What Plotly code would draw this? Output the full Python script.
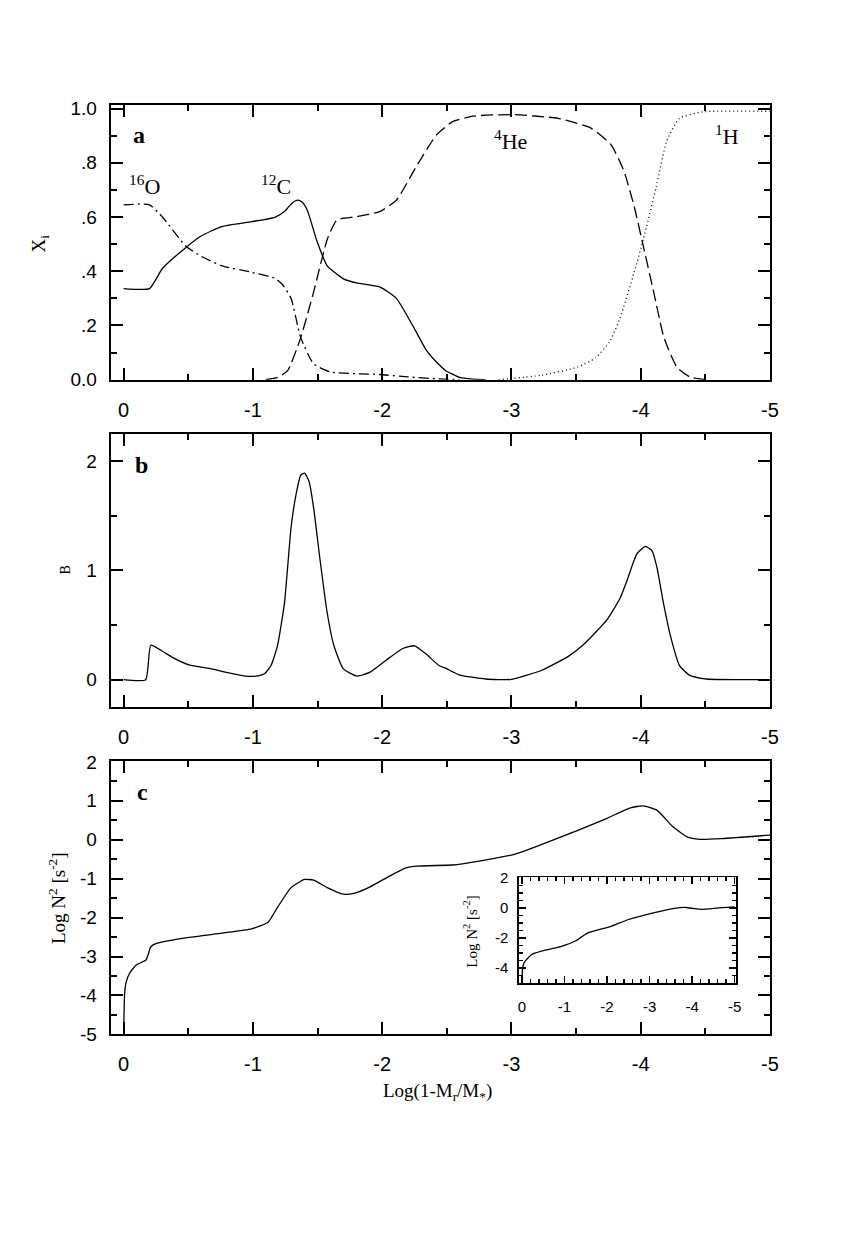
import plotly.graph_objects as go

# ---------------- data ----------------
# panel a: mass fractions X_i vs Log(1-Mr/M*)
o16_x = [0, -0.2, -0.3, -0.48, -0.6, -0.76, -0.99, -1.17, -1.23, -1.295, -1.37, -1.47, -1.6, -1.8, -1.98, -2.2, -2.42, -2.6]
o16_y = [0.645, 0.645, 0.60, 0.493, 0.455, 0.42, 0.396, 0.374, 0.35, 0.30, 0.155, 0.058, 0.028, 0.022, 0.019, 0.01, 0.003, 0.0]

c12_x = [0, -0.2, -0.3, -0.48, -0.6, -0.76, -0.99, -1.17, -1.244, -1.30, -1.346, -1.38, -1.42, -1.5, -1.575, -1.70, -1.80, -1.98, -2.11, -2.26, -2.34, -2.42, -2.49, -2.6, -2.7, -2.8]
c12_y = [0.336, 0.336, 0.41, 0.487, 0.53, 0.565, 0.583, 0.599, 0.62, 0.65, 0.662, 0.655, 0.626, 0.505, 0.42, 0.372, 0.357, 0.342, 0.30, 0.179, 0.11, 0.065, 0.034, 0.008, 0.002, 0.0]

he4_x = [-1.1, -1.2, -1.27, -1.37, -1.47, -1.575, -1.65, -1.80, -1.98, -2.11, -2.26, -2.42, -2.545, -2.7, -3.0, -3.36, -3.615, -3.77, -3.87, -3.95, -4.02, -4.10, -4.18, -4.28, -4.38, -4.5]
he4_y = [0.0, 0.01, 0.034, 0.155, 0.324, 0.517, 0.589, 0.601, 0.62, 0.662, 0.783, 0.903, 0.952, 0.972, 0.978, 0.964, 0.928, 0.867, 0.77, 0.638, 0.493, 0.324, 0.155, 0.046, 0.01, 0.0]

h1_x = [-2.9, -3.23, -3.51, -3.65, -3.76, -3.84, -3.95, -4.02, -4.12, -4.20, -4.30, -4.48, -5.0]
h1_y = [0.0, 0.016, 0.046, 0.08, 0.14, 0.227, 0.396, 0.517, 0.71, 0.879, 0.964, 0.988, 0.99]

# panel b: Ledoux term B
b_x = [0, -0.17, -0.21, -0.3, -0.377, -0.505, -0.68, -0.785, -0.94, -1.04, -1.09, -1.14, -1.19, -1.244, -1.295, -1.333, -1.37, -1.40, -1.435, -1.47, -1.52, -1.575, -1.627, -1.70, -1.805, -1.907, -2.06, -2.16, -2.25, -2.34, -2.44, -2.49, -2.595, -2.80, -3.0, -3.23, -3.44, -3.56, -3.74, -3.84, -3.895, -3.97, -4.036, -4.087, -4.125, -4.176, -4.23, -4.30, -4.38, -4.51, -5.0]
b_y = [0.0, 0.0, 0.315, 0.26, 0.204, 0.135, 0.099, 0.069, 0.033, 0.035, 0.054, 0.129, 0.309, 0.70, 1.39, 1.69, 1.87, 1.89, 1.81, 1.57, 1.09, 0.61, 0.31, 0.099, 0.033, 0.069, 0.204, 0.285, 0.31, 0.234, 0.129, 0.105, 0.045, 0.006, 0.003, 0.084, 0.213, 0.324, 0.55, 0.745, 0.91, 1.15, 1.22, 1.18, 1.03, 0.70, 0.40, 0.129, 0.039, 0.006, 0.0]

# panel c: Log N^2
n2_x = [0, -0.008, -0.02, -0.046, -0.097, -0.173, -0.19, -0.21, -0.25, -0.505, -0.76, -0.99, -1.117, -1.19, -1.295, -1.40, -1.47, -1.575, -1.70, -1.78, -1.907, -2.06, -2.19, -2.26, -2.545, -2.62, -3.03, -3.49, -3.74, -3.92, -4.02, -4.125, -4.25, -4.355, -4.46, -4.63, -5.0]
n2_y = [-5.0, -3.93, -3.65, -3.43, -3.22, -3.09, -2.95, -2.75, -2.67, -2.51, -2.40, -2.29, -2.12, -1.74, -1.23, -1.02, -1.04, -1.23, -1.40, -1.38, -1.21, -0.93, -0.72, -0.68, -0.65, -0.62, -0.37, 0.21, 0.55, 0.82, 0.87, 0.76, 0.33, 0.08, 0.01, 0.03, 0.12]

# inset: Log N^2
ins_x = [0, -0.01, -0.03, -0.077, -0.23, -0.46, -0.93, -1.27, -1.54, -2.08, -2.47, -3.09, -3.55, -3.86, -4.05, -4.24, -4.63, -5.0]
ins_y = [-4.94, -4.2, -3.8, -3.53, -3.09, -2.87, -2.55, -2.18, -1.67, -1.24, -0.80, -0.33, -0.04, 0.03, -0.05, -0.09, 0.0, 0.07]

x_ticks = [0, -1, -2, -3, -4, -5]
x_ticktext = ["0", "-1", "-2", "-3", "-4", "-5"]
a_yticks = [0, 0.2, 0.4, 0.6, 0.8, 1.0]
a_yticktext = ["0.0", ".2", ".4", ".6", ".8", "1.0"]
b_yticks = [0, 1, 2]
c_yticks = [2, 1, 0, -1, -2, -3, -4, -5]
ins_yticks = [2, 0, -2, -4]

# ---------------- figure ----------------
W, H = 862, 1241
SANS = "Liberation Sans, Arial, sans-serif"
SERIF = "Liberation Serif, Times New Roman, serif"
LW = 1.3

def px(x):
    return x / W

def py(y):
    return 1 - y / H

fig = go.Figure()

def line(x, y, xa, ya, dash="solid"):
    fig.add_trace(go.Scatter(x=x, y=y, mode="lines", xaxis=xa, yaxis=ya,
                             line=dict(color="black", width=LW, dash=dash, shape="spline", smoothing=0.5),
                             showlegend=False, hoverinfo="skip"))

line(o16_x, o16_y, "x", "y", "10px,4px,2px,4px")
line(c12_x, c12_y, "x", "y")
line(he4_x, he4_y, "x", "y", "12px,5px")
line(h1_x, h1_y, "x", "y", "1px,3px")
line(b_x, b_y, "x2", "y2")
line(n2_x, n2_y, "x3", "y3")
line(ins_x, ins_y, "x4", "y4")

def xaxis(dom, anchor, ticksize=20, tl=12, ml=6, rng=(0.1, -5.0), minor=0.5, standoff=11, lw=2):
    return dict(domain=dom, anchor=anchor, range=list(rng), tickvals=x_ticks, ticktext=x_ticktext,
                ticks="inside", ticklen=tl, tickwidth=lw, tickcolor="black",
                minor=dict(dtick=minor, ticks="inside", ticklen=ml, tickwidth=lw, tickcolor="black", showgrid=False),
                showline=True, linecolor="black", linewidth=lw, mirror="allticks",
                showgrid=False, zeroline=False, ticklabelstandoff=standoff,
                tickfont=dict(family=SANS, size=ticksize, color="black"))

def yaxis(dom, anchor, rng, tickvals, ticktext=None, minor=0.5, ticksize=19, tl=12, ml=6, standoff=8, lw=2):
    d = dict(domain=dom, anchor=anchor, range=list(rng), tickvals=tickvals,
             ticks="inside", ticklen=tl, tickwidth=lw, tickcolor="black",
             minor=dict(dtick=minor, ticks="inside", ticklen=ml, tickwidth=lw, tickcolor="black", showgrid=False),
             showline=True, linecolor="black", linewidth=lw, mirror="allticks",
             showgrid=False, zeroline=False, ticklabelstandoff=standoff,
             tickfont=dict(family=SANS, size=ticksize, color="black"))
    if ticktext is not None:
        d["ticktext"] = ticktext
    else:
        d["ticktext"] = [str(v) for v in tickvals]
    return d

xdom = [px(111), px(778)]
fig.update_layout(
    width=W, height=H, margin=dict(l=0, r=0, t=0, b=0),
    paper_bgcolor="white", plot_bgcolor="white", showlegend=False,
    xaxis=xaxis(xdom, "y"),
    yaxis=yaxis([py(376), py(97)], "x", (0, 1.012), a_yticks, a_yticktext, minor=0.1),
    xaxis2=xaxis(xdom, "y2"),
    yaxis2=yaxis([py(709), py(431)], "x2", (-0.25, 2.25), b_yticks),
    xaxis3=xaxis(xdom, "y3"),
    yaxis3=yaxis([py(1042), py(764)], "x3", (-5, 2.02), c_yticks),
    xaxis4=xaxis([px(524), px(744)], "y4", ticksize=15, tl=7, ml=4, rng=(0.07, -5.04), minor=0.2, standoff=9, lw=1.5),
    yaxis4=yaxis([py(990), py(882)], "x4", (-5, 2.05), ins_yticks, minor=0.5, ticksize=15, tl=7, ml=4, standoff=6, lw=1.5),
)

def ann(text, x, y, size, bold=False, angle=0, family=SERIF):
    if bold:
        text = "<b>" + text + "</b>"
    fig.add_annotation(text=text, x=px(x), y=py(y), xref="paper", yref="paper",
                       showarrow=False, textangle=angle, xanchor="center", yanchor="middle",
                       font=dict(family=family, size=size, color="black"))

ann("a", 140, 127, 24, bold=True)
ann("b", 142, 463, 24, bold=True)
ann("c", 143, 795, 24, bold=True)
ann("<sup>16</sup>O", 145, 178, 22)
ann("<sup>12</sup>C", 278, 178, 22)
ann("<sup>4</sup>He", 515, 132, 22)
ann("<sup>1</sup>H", 735, 127, 22)
ann("X<sub>i</sub>", 39, 238, 19, angle=-90)
ann("B", 65, 570, 14, angle=-90)
ann("Log N<sup>2</sup> [s<sup>-2</sup>]", 56, 903, 19, angle=-90)
ann("Log N<sup>2</sup> [s<sup>-2</sup>]", 475, 937, 15, angle=-90)
ann("Log(1-M<sub>r</sub>/M<sub>*</sub>)", 442, 1101, 19)

fig.write_html("out.html", config={"displayModeBar": False, "staticPlot": True},
               post_script="document.body.style.margin='0';document.body.style.overflow='hidden';")
